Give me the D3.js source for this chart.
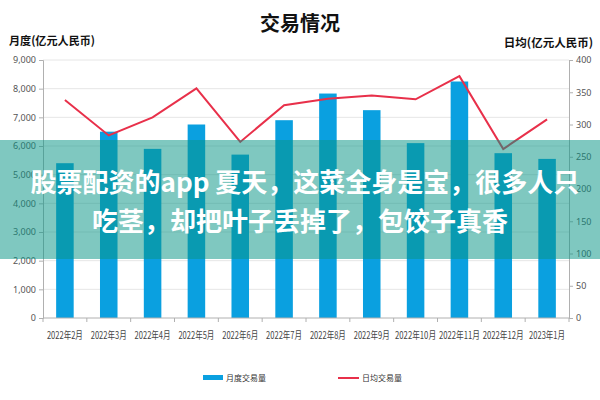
<!DOCTYPE html>
<html>
<head>
<meta charset="utf-8">
<script src="https://cdn.jsdelivr.net/npm/d3@7"></script>
<style>
  body { margin: 0; background: #fff; }
  svg { display: block; font-family: "Noto Sans CJK SC", "Noto Sans", sans-serif; }
</style>
</head>
<body>
<div id="chart"><svg></svg></div>
<script>
const months = ['2022年2月', '2022年3月', '2022年4月', '2022年5月', '2022年6月', '2022年7月',
  '2022年8月', '2022年9月', '2022年10月', '2022年11月', '2022年12月', '2023年1月'];
const monthlyVolume = [5400, 6500, 5900, 6750, 5700, 6900, 7830, 7250, 6100, 8250, 5750, 5550];
const dailyVolume = [338, 283, 311, 356, 273, 330, 340, 345, 339, 375, 262, 308];
const leftTicks = [0, 1000, 2000, 3000, 4000, 5000, 6000, 7000, 8000, 9000];
const rightTicks = [0, 50, 100, 150, 200, 250, 300, 350, 400];

const W = 600, H = 400;
const MARGIN = { top: 60, right: 31, bottom: 82, left: 43 };
const width = W - MARGIN.left - MARGIN.right;
const height = H - MARGIN.top - MARGIN.bottom;

const svg = d3.select('#chart svg').attr('width', W).attr('height', H);

// titles
svg.append('text')
  .attr('x', 300).attr('y', 31)
  .attr('text-anchor', 'middle')
  .attr('font-size', 20).attr('font-weight', 'bold')
  .attr('fill', '#111')
  .text('交易情况');
svg.append('text')
  .attr('x', 9).attr('y', 45)
  .attr('font-size', 11.5).attr('font-weight', 'bold')
  .attr('fill', '#111')
  .attr('textLength', 86).attr('lengthAdjust', 'spacingAndGlyphs')
  .text('月度(亿元人民币)');
svg.append('text')
  .attr('x', 593).attr('y', 47)
  .attr('text-anchor', 'end')
  .attr('font-size', 11.5).attr('font-weight', 'bold')
  .attr('fill', '#111')
  .text('日均(亿元人民币)');

const inner = svg.append('g')
  .attr('transform', `translate(${MARGIN.left}, ${MARGIN.top})`);

const x = d3.scaleBand().domain(months).range([0, width]).paddingInner(0.6).paddingOuter(0.3);
const yL = d3.scaleLinear().domain([0, 9000]).range([height, 0]);
const yR = d3.scaleLinear().domain([0, 400]).range([height, 0]);

// grid
inner.append('g')
  .selectAll('line')
  .data(leftTicks.slice(1))
  .join('line')
  .attr('x1', 0).attr('x2', width)
  .attr('y1', d => yL(d)).attr('y2', d => yL(d))
  .attr('stroke', '#e6e6e6').attr('stroke-width', 1);

// bars
inner.append('g')
  .selectAll('rect')
  .data(monthlyVolume)
  .join('rect')
  .attr('x', (d, i) => x(months[i]))
  .attr('y', d => yL(d))
  .attr('width', x.bandwidth())
  .attr('height', d => height - yL(d))
  .attr('fill', '#0aa0e0');

// line
const line = d3.line()
  .x((d, i) => x(months[i]) + x.bandwidth() / 2)
  .y(d => yR(d));
inner.append('path')
  .datum(dailyVolume)
  .attr('d', line)
  .attr('fill', 'none')
  .attr('stroke', '#e8304a')
  .attr('stroke-width', 2);

// axes
const fmt = d3.format(',');
const axL = inner.append('g')
  .call(d3.axisLeft(yL).tickValues(leftTicks).tickFormat(fmt).tickSize(4).tickPadding(3));
const axR = inner.append('g')
  .attr('transform', `translate(${width}, 0)`)
  .call(d3.axisRight(yR).tickValues(rightTicks).tickSize(4).tickPadding(3));
[axL, axR].forEach(ax => {
  ax.select('.domain').attr('stroke', '#b0b0b0');
  ax.selectAll('.tick line').attr('stroke', '#b0b0b0');
  ax.selectAll('text').attr('font-size', 9).attr('fill', '#555')
    .attr('font-family', '"Liberation Sans Narrow", "Noto Sans", sans-serif');
});

// x axis: ticks at band boundaries
const axB = inner.append('g').attr('transform', `translate(0, ${height})`);
axB.append('line').attr('x1', 0).attr('x2', width).attr('stroke', '#b0b0b0');
const step = x.step();
axB.selectAll('line.tk')
  .data(d3.range(months.length + 1))
  .join('line')
  .attr('class', 'tk')
  .attr('x1', i => i * step).attr('x2', i => i * step)
  .attr('y1', 0).attr('y2', 4)
  .attr('stroke', '#b0b0b0');
axB.selectAll('text')
  .data(months)
  .join('text')
  .attr('x', d => x(d) + x.bandwidth() / 2)
  .attr('y', 20.5)
  .attr('text-anchor', 'middle')
  .attr('font-size', 10)
  .attr('fill', '#444')
  .attr('textLength', d => d.length > 7 ? 41 : 36)
  .attr('lengthAdjust', 'spacingAndGlyphs')
  .text(d => d);

// legend
const legend = svg.append('g').attr('font-size', 8).attr('fill', '#333');
legend.append('rect').attr('x', 203).attr('y', 375).attr('width', 20).attr('height', 5).attr('fill', '#0aa0e0');
legend.append('text').attr('x', 226).attr('y', 381).text('月度交易量');
legend.append('line').attr('x1', 338).attr('x2', 359).attr('y1', 378).attr('y2', 378)
  .attr('stroke', '#e8304a').attr('stroke-width', 2);
legend.append('text').attr('x', 362).attr('y', 381).text('日均交易量');

// overlay banner
svg.append('rect')
  .attr('x', 0).attr('y', 140).attr('width', W).attr('height', 119)
  .attr('fill', 'rgb(10,150,134)').attr('fill-opacity', 0.52);
const banner = svg.append('g')
  .attr('font-size', 26).attr('font-weight', 'bold').attr('fill', '#fff')
  .attr('text-anchor', 'middle');
banner.append('text').attr('x', 305).attr('y', 192).text('股票配资的app 夏天，这菜全身是宝，很多人只');
banner.append('text').attr('x', 300).attr('y', 231).text('吃茎，却把叶子丢掉了，包饺子真香');
</script>
</body>
</html>
